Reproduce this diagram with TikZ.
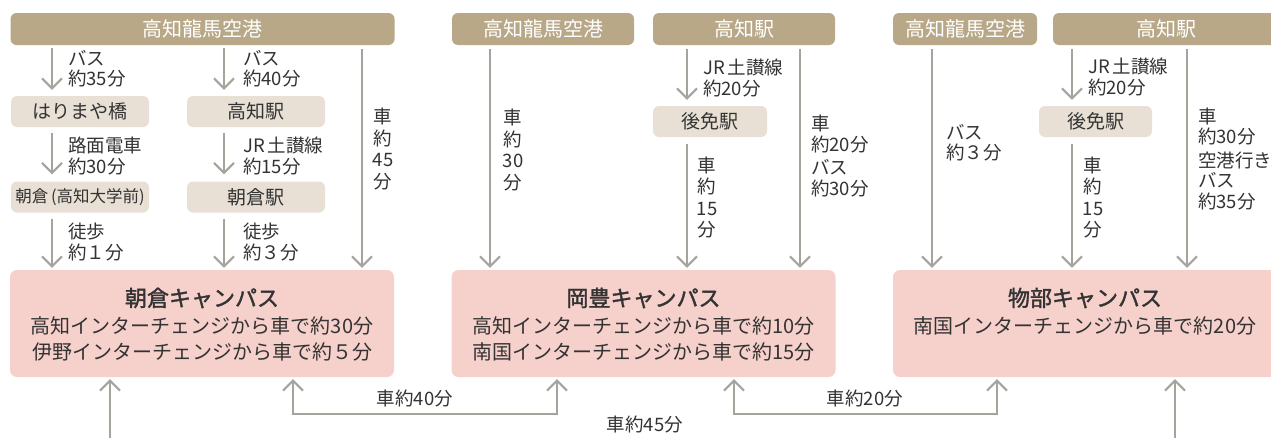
\documentclass[tikz,border=0pt]{standalone}
\usepackage{fontspec}
\setmainfont{Noto Sans CJK JP}
\newfontfamily\titlefont[FakeBold=1.6]{Noto Sans CJK JP}
\usetikzlibrary{arrows.meta}
\definecolor{topbrown}{HTML}{B8A888}
\definecolor{subbeige}{HTML}{E8E0D5}
\definecolor{campuspink}{HTML}{F6D0CB}
\definecolor{arrowgray}{HTML}{A4A49C}
\definecolor{txt}{HTML}{333333}
\begin{document}
\begin{tikzpicture}[x=1pt,y=-1pt,
  topbox/.style={fill=topbrown, rounded corners=6pt, text=white, font=\fontsize{20}{24}\selectfont, inner sep=0pt, minimum height=32pt},
  subbox/.style={fill=subbeige, rounded corners=6pt, text=txt, font=\fontsize{19}{22}\selectfont, inner sep=0pt, minimum height=31pt},
  campus/.style={fill=campuspink, rounded corners=7pt, minimum height=107pt, minimum width=384pt, inner sep=0pt},
  lbl/.style={anchor=west, align=left, text=txt, font=\fontsize{18.5}{20.5}\selectfont, inner sep=0pt},
  vlbl/.style={align=center, text=txt, font=\fontsize{18.5}{21.5}\selectfont, inner sep=0pt},
  ctitle/.style={text=txt, font=\fontsize{22}{26}\titlefont, inner sep=0pt},
  cline/.style={text=txt, font=\fontsize{20}{26}\selectfont, align=center, inner sep=0pt},
  blbl/.style={text=txt, font=\fontsize{18.5}{22}\selectfont, inner sep=0pt},
  arr/.style={draw=arrowgray, line width=2pt, -{Straight Barb[length=10pt,width=20pt]}},
  biarr/.style={draw=arrowgray, line width=2pt, {Straight Barb[length=10pt,width=20pt]}-{Straight Barb[length=10pt,width=20pt]}}
]
\useasboundingbox (0,0) rectangle (1271,437);
\clip (0,0) rectangle (1271,437);
\fill[white] (0,0) rectangle (1271,437);

% top boxes
\node[topbox, minimum width=384pt] (air1) at (202.5,29) {高知龍馬空港};
\node[topbox, minimum width=182pt] (air2) at (543,29) {高知龍馬空港};
\node[topbox, minimum width=182pt] (eki2) at (744,29) {高知駅};
\node[topbox, minimum width=144pt] (air3) at (965,29) {高知龍馬空港};
\node[topbox, minimum width=226pt] (eki3) at (1166,29) {高知駅};

% intermediate boxes
\node[subbox, minimum width=138pt] (hari) at (80,111.5) {はりまや橋};
\node[subbox, minimum width=138pt] (ekiL) at (256,111.5) {高知駅};
\node[subbox, minimum width=138pt, font=\fontsize{16.5}{18}\selectfont] (asaD) at (80,197) {朝倉\,(高知大学前)};
\node[subbox, minimum width=138pt] (asaE) at (256,197) {朝倉駅};
\node[subbox, minimum width=114pt] (gom2) at (710,121.5) {後免駅};
\node[subbox, minimum width=113pt] (gom3) at (1095.5,121.5) {後免駅};

% campus boxes
\node[campus] (c1) at (202,323.5) {};
\node[campus] (c2) at (643.5,323.5) {};
\node[campus] (c3) at (1085,323.5) {};
\node[ctitle] (c1t) at (202,298) {朝倉キャンパス};
\node[cline] (c1l) at (202,339) {高知インターチェンジから車で約30分\\伊野インターチェンジから車で約５分};
\node[ctitle] (c2t) at (643.5,298) {岡豊キャンパス};
\node[cline] (c2l) at (643.5,339) {高知インターチェンジから車で約10分\\南国インターチェンジから車で約15分};
\node[ctitle] (c3t) at (1085,298) {物部キャンパス};
\node[cline] (c3l) at (1085,326) {南国インターチェンジから車で約20分};

% column coordinates
\coordinate (xa) at (52,0);
\coordinate (xb) at (224,0);
\coordinate (xc) at (362,0);
\coordinate (xd) at (490,0);
\coordinate (xe) at (687,0);
\coordinate (xf) at (800,0);
\coordinate (xg) at (932,0);
\coordinate (xh) at (1072,0);
\coordinate (xi) at (1187,0);

% left section arrows
\draw[arr, shorten <=3pt, shorten >=6pt] (air1.south -| xa) -- (hari.north -| xa);
\draw[arr, shorten <=6pt, shorten >=7pt] (hari.south -| xa) -- (asaD.north -| xa);
\draw[arr, shorten <=6pt, shorten >=2pt] (asaD.south -| xa) -- (c1.north -| xa);
\draw[arr, shorten <=3pt, shorten >=6pt] (air1.south -| xb) -- (ekiL.north -| xb);
\draw[arr, shorten <=6pt, shorten >=7pt] (ekiL.south -| xb) -- (asaE.north -| xb);
\draw[arr, shorten <=6pt, shorten >=2pt] (asaE.south -| xb) -- (c1.north -| xb);
\draw[arr, shorten <=4pt, shorten >=2pt] (air1.south -| xc) -- (c1.north -| xc);

% middle section arrows
\draw[arr, shorten <=4pt, shorten >=2pt] (air2.south -| xd) -- (c2.north -| xd);
\draw[arr, shorten <=4pt, shorten >=6pt] (eki2.south -| xe) -- (gom2.north -| xe);
\draw[arr, shorten <=7pt, shorten >=2pt] (gom2.south -| xe) -- (c2.north -| xe);
\draw[arr, shorten <=4pt, shorten >=2pt] (eki2.south -| xf) -- (c2.north -| xf);

% right section arrows
\draw[arr, shorten <=4pt, shorten >=2pt] (air3.south -| xg) -- (c3.north -| xg);
\draw[arr, shorten <=4pt, shorten >=6pt] (eki3.south -| xh) -- (gom3.north -| xh);
\draw[arr, shorten <=7pt, shorten >=2pt] (gom3.south -| xh) -- (c3.north -| xh);
\draw[arr, shorten <=4pt, shorten >=2pt] (eki3.south -| xi) -- (c3.north -| xi);

% labels left
\node[lbl] (l1) at (68,68.5) {バス\\約35分};
\node[lbl] (l2) at (68,156) {路面電車\\約30分};
\node[lbl] (l3) at (68,242) {徒歩\\約１分};
\node[lbl] (m1) at (243,68.5) {バス\\約40分};
\node[lbl] (m2) at (243,156) {JR\,土讃線\\約15分};
\node[lbl] (m3) at (243,242) {徒歩\\約３分};
\node[vlbl] (v1) at (383,149) {車\\約\\45\\分};
% labels middle
\node[vlbl] (v2) at (513,150) {車\\約\\30\\分};
\node[lbl] (j2) at (703,78) {JR\,土讃線\\約20分};
\node[vlbl] (v3) at (707,197.5) {車\\約\\15\\分};
\node[lbl] (r2) at (811,156) {車\\約20分\\[3pt]バス\\約30分};
% labels right
\node[lbl] (b3) at (946,142.5) {バス\\約３分};
\node[lbl] (j3) at (1088,77) {JR\,土讃線\\約20分};
\node[vlbl] (v4) at (1093,197.5) {車\\約\\15\\分};
\node[lbl] (r3) at (1198,159) {車\\約30分\\[3pt]空港行き\\バス\\約35分};

% bottom connectors
\coordinate (j12a) at (293,414);
\coordinate (j12b) at (557,414);
\coordinate (j23a) at (734,414);
\coordinate (j23b) at (997,414);
\coordinate (j13a) at (110,460);
\coordinate (j13b) at (1175,460);
\draw[biarr, shorten <=2pt, shorten >=2pt] (c1.south -| j12a) -- (j12a) -- (j12b) -- (c2.south -| j12b);
\draw[biarr, shorten <=2pt, shorten >=2pt] (c2.south -| j23a) -- (j23a) -- (j23b) -- (c3.south -| j23b);
\draw[biarr, shorten <=2pt, shorten >=2pt] (c1.south -| j13a) -- (j13a) -- (j13b) -- (c3.south -| j13b);
\node[blbl] (bl1) at (415,398) {車約40分};
\node[blbl] (bl2) at (865,398) {車約20分};
\node[blbl] (bl3) at (645,424) {車約45分};
\end{tikzpicture}
\end{document}
